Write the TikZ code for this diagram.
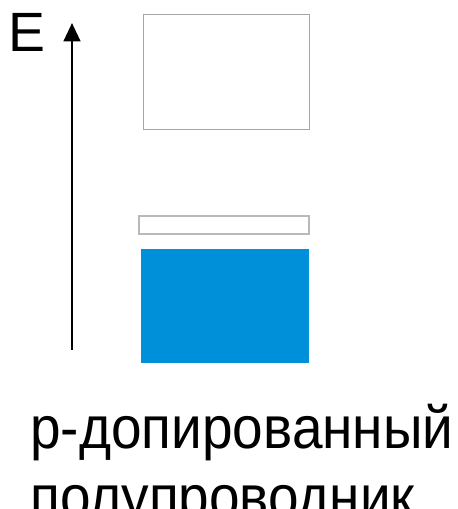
\documentclass[tikz,border=0pt]{standalone}
\usepackage{fontspec}
\setmainfont{Liberation Sans}
\newfontfamily\capfont[FakeStretch=0.92]{Liberation Sans}
\usetikzlibrary{positioning, calc, arrows.meta}

\begin{document}
\begin{tikzpicture}[
  >={Triangle[length=10.5pt,width=9.5pt]},
  band/.style={draw=gray!70, line width=0.5pt},
  label/.style={inner sep=0pt, anchor=base west},
]
% ---------------- scene bbox ----------------
\useasboundingbox (0,0) rectangle (9.16,10.18);

% =====================================================================
% Energy axis
% =====================================================================
\coordinate (ebot) at (1.44, 3.18);
\coordinate (etop) at (1.44, 9.72);
\draw[black, line width=1.5pt, ->] (ebot) -- (etop);
\node[label, font=\fontsize{31.5}{36}\selectfont] (elab) at (0.17, 9.14) {E};

% =====================================================================
% Bands: conduction (empty), acceptor level (thin), valence (filled)
% =====================================================================
\definecolor{bandblue}{HTML}{0090DA}
\draw[band] (2.86, 7.60) rectangle (6.18, 9.90);
\draw[band, draw=gray!55, line width=1pt] (2.78, 5.50) rectangle (6.18, 5.86);
\fill[bandblue] (2.82, 2.92) rectangle (6.18, 5.20);

% =====================================================================
% Caption (second line runs off the page)
% =====================================================================
\node[label, font=\capfont\fontsize{34}{40}\selectfont] (dop) at (0.60, 1.22)
  {р-допированный};
\node[label, font=\capfont\fontsize{34}{40}\selectfont] (semi)
  at ($(dop.base west)+(0,-1.40)$) {полупроводник};

\end{tikzpicture}
\end{document}
